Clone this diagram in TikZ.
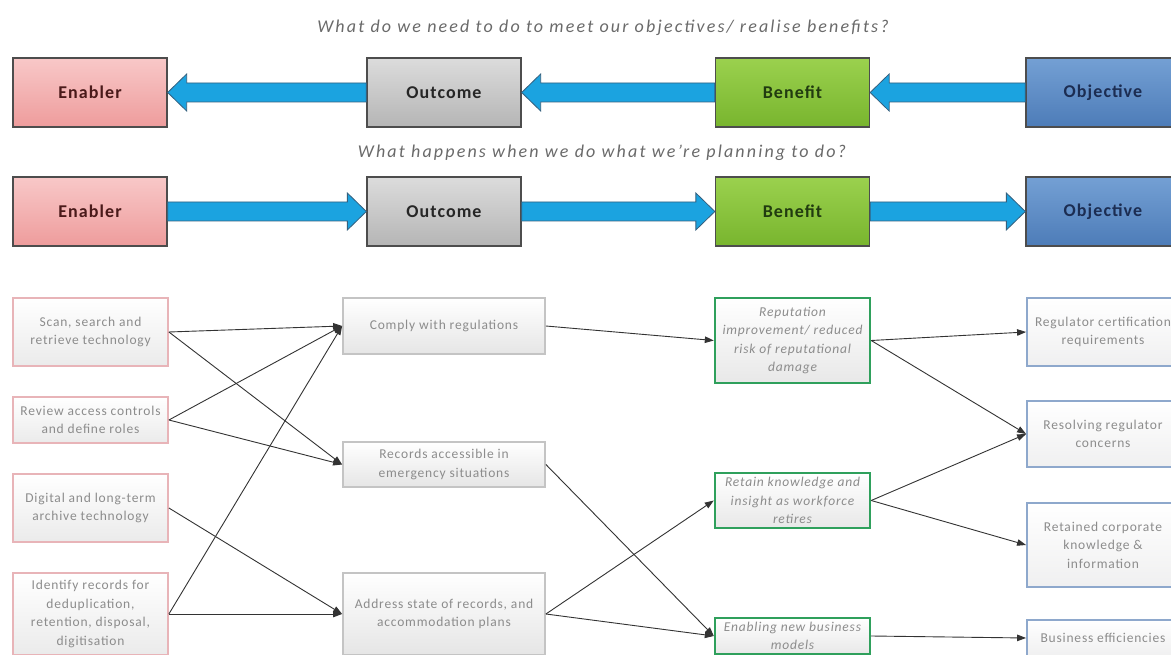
\documentclass[tikz,border=0pt]{standalone}
\usepackage{fontspec}
\setmainfont{Carlito}
\newfontfamily\spacedfont{Carlito}[LetterSpace=6]
\newfontfamily\widefont{Carlito}[LetterSpace=12]
\usetikzlibrary{arrows.meta,calc}

% palette
\definecolor{enabTop}{HTML}{F8C8C8}
\definecolor{enabBot}{HTML}{EE9C9C}
\definecolor{outTop}{HTML}{DCDCDC}
\definecolor{outBot}{HTML}{B5B5B5}
\definecolor{benTop}{HTML}{9BD14E}
\definecolor{benBot}{HTML}{78B52E}
\definecolor{objTop}{HTML}{74A0D4}
\definecolor{objBot}{HTML}{4D7CB8}
\definecolor{boxLine}{HTML}{4D4D4D}
\definecolor{enabText}{HTML}{4A1A1A}
\definecolor{outText}{HTML}{262626}
\definecolor{benText}{HTML}{213B10}
\definecolor{objText}{HTML}{1C2D52}
\definecolor{arrowBlue}{HTML}{1BA3E0}
\definecolor{arrowEdge}{HTML}{35607E}
\definecolor{pinkLine}{HTML}{E8B4B8}
\definecolor{greyLine}{HTML}{C4C4C4}
\definecolor{greenLine}{HTML}{2FA05C}
\definecolor{blueLine}{HTML}{8EA8CC}
\definecolor{smallText}{HTML}{8C8C8C}
\definecolor{questionText}{HTML}{6A6A6A}
\definecolor{linkLine}{HTML}{333333}

% block arrow pointing left: from node #1 to node #2
\newcommand\arrowtoleft[2]{%
  \path[blockarrow] (#2.east) -- ($(#2.east)+(19,-18.5)$) -- ($(#2.east)+(19,-9.5)$)
    -- ($(#1.west)+(0,-9.5)$) -- ($(#1.west)+(0,9.5)$)
    -- ($(#2.east)+(19,9.5)$) -- ($(#2.east)+(19,18.5)$) -- cycle;}
% block arrow pointing right: from node #1 to node #2
\newcommand\arrowtoright[2]{%
  \path[blockarrow] (#2.west) -- ($(#2.west)+(-19,-18.5)$) -- ($(#2.west)+(-19,-9.5)$)
    -- ($(#1.east)+(0,-9.5)$) -- ($(#1.east)+(0,9.5)$)
    -- ($(#2.west)+(-19,9.5)$) -- ($(#2.west)+(-19,18.5)$) -- cycle;}

\begin{document}
\begin{tikzpicture}[x=1pt,y=-1pt,
  question/.style={text=questionText, font=\widefont\fontsize{18}{21}\selectfont\itshape, inner sep=0pt},
  topbox/.style={draw=boxLine, line width=1.3pt, minimum width=154pt, minimum height=69pt,
    inner sep=0pt, font=\spacedfont\fontsize{18}{21}\selectfont\bfseries},
  enab/.style={topbox, top color=enabTop, bottom color=enabBot, text=enabText},
  outc/.style={topbox, top color=outTop, bottom color=outBot, text=outText},
  bene/.style={topbox, top color=benTop, bottom color=benBot, text=benText},
  obje/.style={topbox, top color=objTop, bottom color=objBot, text=objText},
  blockarrow/.style={fill=arrowBlue, draw=arrowEdge, line width=0.8pt, line join=miter},
  small/.style={align=center, inner sep=0pt, text=smallText, top color=white,
    font=\spacedfont\fontsize{13.5}{18.5}\selectfont},
  enabsm/.style={small, draw=pinkLine, line width=1.8pt, bottom color=black!8,
    minimum width=155pt},
  outsm/.style={small, draw=greyLine, line width=1.8pt, bottom color=black!10,
    minimum width=202pt},
  benesm/.style={small, draw=greenLine, line width=2.4pt, bottom color=black!9,
    minimum width=155pt, font=\spacedfont\fontsize{13.5}{18.5}\selectfont\itshape},
  objesm/.style={small, draw=blueLine, line width=1.8pt, bottom color=blue!4!black!6,
    minimum width=152pt},
  link/.style={draw=linkLine, line width=0.9pt, -{Triangle[length=9pt,width=6.5pt]}}
]
\useasboundingbox (0,0) rectangle (1171,655);
\fill[white] (0,0) rectangle (1171,655);
\clip (0,0) rectangle (1171,655);

% guiding questions
\node[question] (q1) at (603,28) {What do we need to do to meet our objectives/ realise benefits?};
\node[question] (q2) at (602,153) {What happens when we do what we’re planning to do?};

% top chain: working back from objectives
\node[enab] (e1) at (90,92.5)   {Enabler};
\node[outc] (o1) at (444,92.5)  {Outcome};
\node[bene] (b1) at (792.5,92.5){Benefit};
\node[obje] (j1) at (1103,92.5) {Objective};
\arrowtoleft{o1}{e1}
\arrowtoleft{b1}{o1}
\arrowtoleft{j1}{b1}

% second chain: working forward from enablers
\node[enab] (e2) at (90,211.5)   {Enabler};
\node[outc] (o2) at (444,211.5)  {Outcome};
\node[bene] (b2) at (792.5,211.5){Benefit};
\node[obje] (j2) at (1103,211.5) {Objective};
\arrowtoright{e2}{o2}
\arrowtoright{o2}{b2}
\arrowtoright{b2}{j2}

% enablers
\node[enabsm, minimum height=68pt] (scan)   at (90.5,332) {Scan, search and\\retrieve technology};
\node[enabsm, minimum height=46pt] (review) at (90.5,420) {Review access controls\\and define roles};
\node[enabsm, minimum height=68pt] (digital)at (90.5,508) {Digital and long-term\\archive technology};
\node[enabsm, minimum height=82pt] (ident)  at (90.5,614) {Identify records for\\deduplication,\\retention, disposal,\\digitisation};

% outcomes
\node[outsm, minimum height=56pt] (comply)  at (444,326)   {Comply with regulations};
\node[outsm, minimum height=45pt] (records) at (444,464.5) {Records accessible in\\emergency situations};
\node[outsm, minimum height=82pt] (address) at (444,614)   {Address state of records, and\\accommodation plans};

% benefits
\node[benesm, minimum height=85pt] (reput)  at (792.5,340.5) {Reputation\\improvement/ reduced\\risk of reputational\\damage};
\node[benesm, minimum height=55pt] (retain) at (792.5,500.5) {Retain knowledge and\\insight as workforce\\retires};
\node[benesm, minimum height=36pt] (enabl)  at (792.5,636)   {Enabling new business\\models};

% objectives
\node[objesm, minimum height=68pt] (regcert) at (1103,332) {Regulator certification\\requirements};
\node[objesm, minimum height=66pt] (resolve) at (1103,434) {Resolving regulator\\concerns};
\node[objesm, minimum height=84pt] (retcorp) at (1103,545) {Retained corporate\\knowledge \&\\information};
\node[objesm, minimum height=36pt] (busin)   at (1103,638) {Business efficiencies};

% enabler -> outcome links
\draw[link] (scan.east)    -- (comply.west);
\draw[link] (scan.east)    -- (records.west);
\draw[link] (review.east)  -- (comply.west);
\draw[link] (review.east)  -- (records.west);
\draw[link] (digital.east) -- (address.west);
\draw[link] (ident.east)   -- (comply.west);
\draw[link] (ident.east)   -- (address.west);

% outcome -> benefit links
\draw[link] (comply.east)  -- (reput.west);
\draw[link] (records.east) -- (enabl.west);
\draw[link] (address.east) -- (retain.west);
\draw[link] (address.east) -- (enabl.west);

% benefit -> objective links
\draw[link] (reput.east)  -- (regcert.west);
\draw[link] (reput.east)  -- (resolve.west);
\draw[link] (retain.east) -- (resolve.west);
\draw[link] (retain.east) -- (retcorp.west);
\draw[link] (enabl.east)  -- (busin.west);
\end{tikzpicture}
\end{document}
